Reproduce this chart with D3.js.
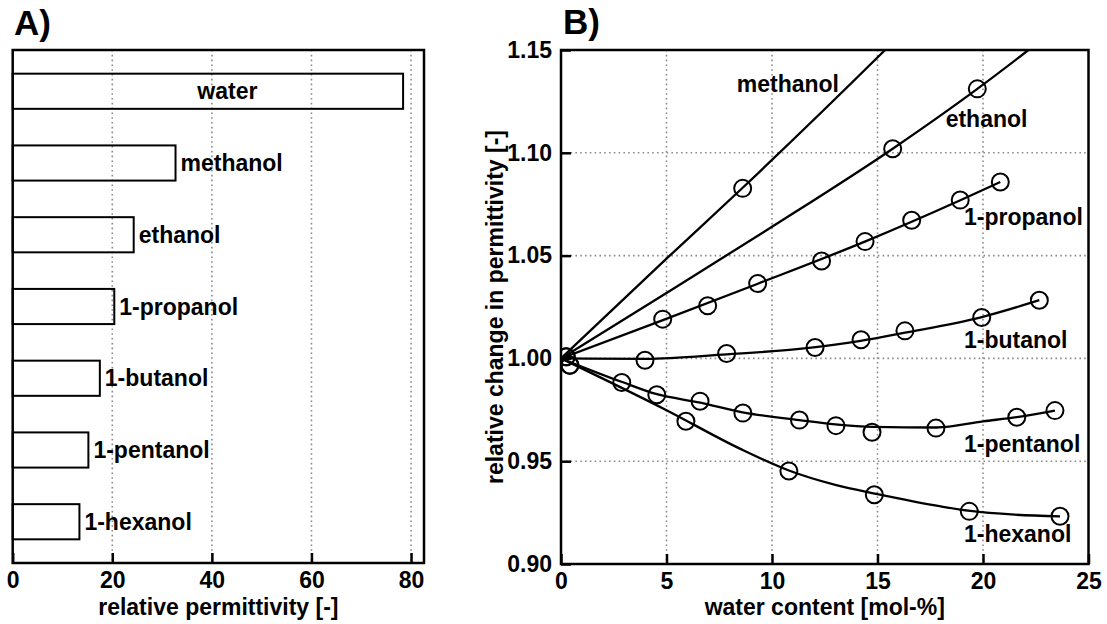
<!DOCTYPE html>
<html>
<head>
<meta charset="utf-8">
<script src="https://cdn.jsdelivr.net/npm/d3@7"></script>
<style>
  body { margin: 0; background: #fff; }
  svg { display: block; font-family: "Liberation Sans", Arial, sans-serif; font-weight: bold; }
  .grid line { stroke: #8a8a8a; stroke-width: 1.6; stroke-dasharray: 1.6,3.2; }
  .axis path { display: none; }
  .axis line { stroke: #000; stroke-width: 2.5; }
  .axis text { font-size: 23px; font-weight: bold; fill: #000; font-family: "Liberation Sans", Arial, sans-serif; }
</style>
</head>
<body>
<svg id="chart" width="1107" height="624"></svg>
<script>
// panel A: relative permittivity of the pure liquids
var solvents = ["water", "methanol", "ethanol", "1-propanol", "1-butanol", "1-pentanol", "1-hexanol"];
var permittivity = [78.4, 32.7, 24.3, 20.4, 17.5, 15.2, 13.4];
var permTicks = [0, 20, 40, 60, 80];

// panel B: measured points [water mol-%, relative change]
var methanolPts = [[8.61, 1.0827]];
var ethanolPts = [[15.72, 1.1020], [19.73, 1.1311]];
var propanolPts = [[0.25, 1.0008], [4.82, 1.0191], [6.95, 1.0256], [9.32, 1.0364], [12.35, 1.0474], [14.41, 1.0568], [16.62, 1.0672], [18.92, 1.0770], [20.82, 1.0858]];
var butanolPts = [[0.25, 1.0008], [3.98, 0.9991], [7.85, 1.0024], [12.04, 1.0053], [14.22, 1.0091], [16.30, 1.0134], [19.94, 1.0199], [22.67, 1.0283]];
var pentanolPts = [[0.42, 0.9967], [2.88, 0.9883], [4.54, 0.9823], [6.59, 0.9792], [8.62, 0.9734], [11.30, 0.9700], [13.03, 0.9673], [14.74, 0.9641], [17.77, 0.9661], [21.60, 0.9714], [23.41, 0.9746]];
var hexanolPts = [[0.42, 0.9967], [5.92, 0.9694], [10.80, 0.9452], [14.85, 0.9337], [19.35, 0.9256], [23.65, 0.9232]];

// fitted curves
var methanolFit = [[0, 1.0], [5, 1.0485], [8.61, 1.0830], [15.36, 1.15], [16, 1.1565]];
var ethanolFit = [[0, 1.0], [5, 1.0318], [10, 1.0640], [15.72, 1.1020], [19.73, 1.1311], [22.15, 1.15], [23, 1.157]];
var propanolFit = [[0, 1.0], [4.8, 1.0185], [9.3, 1.0362], [14.4, 1.0568], [18.9, 1.0768], [20.82, 1.0858]];
var butanolFit = [[0, 1.0], [4, 0.9998], [7.85, 1.0020], [11.3, 1.0046], [14.2, 1.0085], [16.3, 1.0125], [19.9, 1.0200], [22.67, 1.0283]];
var pentanolFit = [[0, 1.0], [2.9, 0.9885], [4.5, 0.9827], [6.6, 0.9785], [8.6, 0.9738], [11.3, 0.9700], [13.0, 0.9679], [14.8, 0.9667], [17.8, 0.9664], [20, 0.9694], [21.6, 0.9714], [23.41, 0.9746]];
var hexanolFit = [[0, 1.0], [5, 0.9748], [8.5, 0.9560], [10.8, 0.9455], [13, 0.9385], [15, 0.9340], [18, 0.9280], [19.4, 0.9258], [21.5, 0.9240], [23.65, 0.9232]];

var seriesNames = ["methanol", "ethanol", "1-propanol", "1-butanol", "1-pentanol", "1-hexanol"];
var labelAt = [[8.33, 1.1296], [18.23, 1.1125], [19.10, 1.0649], [19.10, 1.0049], [19.10, 0.9544], [19.10, 0.9107]];
var waterTicks = [0, 5, 10, 15, 20, 25];
var changeTicks = [0.90, 0.95, 1.00, 1.05, 1.10, 1.15];

var svg = d3.select("#chart");

// ---------- panel A ----------
var a = {left: 12.7, right: 424, top: 50, bottom: 563};
var xA = d3.scaleLinear().domain([0, 82.6]).range([a.left, a.right]);
var yA = d3.scaleBand().domain(solvents).range([a.top, a.bottom]).paddingInner(0.51).paddingOuter(0.33);

svg.append("g").attr("class", "grid")
  .selectAll("line").data(permTicks.slice(1)).enter().append("line")
  .attr("x1", xA).attr("x2", xA).attr("y1", a.top).attr("y2", a.bottom);

svg.append("g").selectAll("rect").data(solvents).enter().append("rect")
  .attr("x", xA(0))
  .attr("y", (d) => yA(d))
  .attr("width", (d, i) => xA(permittivity[i]) - xA(0))
  .attr("height", yA.bandwidth())
  .attr("fill", "none")
  .attr("stroke", "#000")
  .attr("stroke-width", 2);

svg.append("g").selectAll("text").data(solvents).enter().append("text")
  .attr("x", (d, i) => i === 0 ? xA(permittivity[i] * 0.55) : xA(permittivity[i]) + 5)
  .attr("y", (d) => yA(d) + yA.bandwidth() / 2)
  .attr("dy", "0.35em")
  .attr("text-anchor", (d, i) => i === 0 ? "middle" : "start")
  .style("font-size", "23px")
  .text((d) => d);

svg.append("g").attr("class", "axis")
  .attr("transform", "translate(0," + a.bottom + ")")
  .call(d3.axisBottom(xA).tickValues(permTicks).tickSize(-10).tickPadding(9));

svg.append("rect")
  .attr("x", a.left).attr("y", a.top)
  .attr("width", a.right - a.left).attr("height", a.bottom - a.top)
  .attr("fill", "none").attr("stroke", "#000").attr("stroke-width", 2.5);

svg.append("text").attr("x", (a.left + a.right) / 2).attr("y", 615)
  .attr("text-anchor", "middle").style("font-size", "23px")
  .text("relative permittivity [-]");

svg.append("text").attr("x", 14).attr("y", 35).style("font-size", "35px").text("A)");

// ---------- panel B ----------
var b = {left: 561, right: 1088.5, top: 50, bottom: 564};
var xB = d3.scaleLinear().domain([0, 25]).range([b.left, b.right]);
var yB = d3.scaleLinear().domain([0.90, 1.15]).range([b.bottom, b.top]);

var gridB = svg.append("g").attr("class", "grid");
gridB.selectAll("line.v").data(waterTicks.slice(1, -1)).enter().append("line")
  .attr("class", "v")
  .attr("x1", xB).attr("x2", xB).attr("y1", b.top).attr("y2", b.bottom);
gridB.selectAll("line.h").data(changeTicks.slice(1, -1)).enter().append("line")
  .attr("class", "h")
  .attr("y1", yB).attr("y2", yB).attr("x1", b.left).attr("x2", b.right);

svg.append("clipPath").attr("id", "clipB")
  .append("rect").attr("x", b.left).attr("y", b.top)
  .attr("width", b.right - b.left).attr("height", b.bottom - b.top);

var fits = [methanolFit, ethanolFit, propanolFit, butanolFit, pentanolFit, hexanolFit];
var points = [methanolPts, ethanolPts, propanolPts, butanolPts, pentanolPts, hexanolPts];

var line = d3.line()
  .x((d) => xB(d[0]))
  .y((d) => yB(d[1]))
  .curve(d3.curveMonotoneX);

var plotB = svg.append("g").attr("clip-path", "url(#clipB)");
plotB.selectAll("path").data(fits).enter().append("path")
  .attr("d", line)
  .attr("fill", "none")
  .attr("stroke", "#000")
  .attr("stroke-width", 2.3);

points.forEach((pts) => {
  plotB.append("g").selectAll("circle").data(pts).enter().append("circle")
    .attr("cx", (d) => xB(d[0]))
    .attr("cy", (d) => yB(d[1]))
    .attr("r", 8.5)
    .attr("fill", "none")
    .attr("stroke", "#000")
    .attr("stroke-width", 2);
});

svg.append("g").selectAll("text").data(seriesNames).enter().append("text")
  .attr("x", (d, i) => xB(labelAt[i][0]))
  .attr("y", (d, i) => yB(labelAt[i][1]))
  .style("font-size", "23px")
  .text((d) => d);

svg.append("g").attr("class", "axis")
  .attr("transform", "translate(0," + b.bottom + ")")
  .call(d3.axisBottom(xB).tickValues(waterTicks).tickSize(-10).tickPadding(9).tickFormat(d3.format("d")));

svg.append("g").attr("class", "axis")
  .attr("transform", "translate(" + b.left + ",0)")
  .call(d3.axisLeft(yB).tickValues(changeTicks).tickSize(-10).tickPadding(9).tickFormat(d3.format(".2f")));

svg.append("rect")
  .attr("x", b.left).attr("y", b.top)
  .attr("width", b.right - b.left).attr("height", b.bottom - b.top)
  .attr("fill", "none").attr("stroke", "#000").attr("stroke-width", 2.5);

svg.append("text").attr("x", (b.left + b.right) / 2).attr("y", 615)
  .attr("text-anchor", "middle").style("font-size", "23px")
  .text("water content [mol-%]");

svg.append("text")
  .attr("transform", "translate(503," + ((b.top + b.bottom) / 2) + ") rotate(-90)")
  .attr("text-anchor", "middle").style("font-size", "23px")
  .text("relative change in permittivity [-]");

svg.append("text").attr("x", 563).attr("y", 34).style("font-size", "35px").text("B)");
</script>
</body>
</html>
